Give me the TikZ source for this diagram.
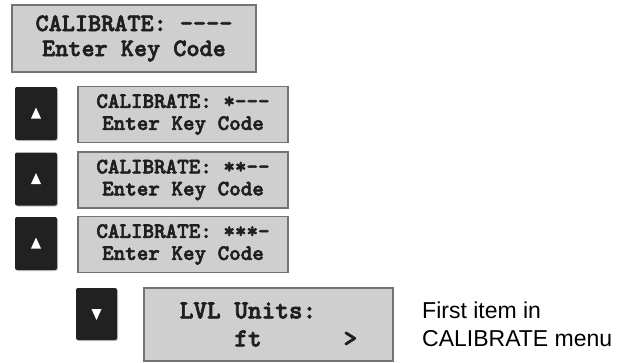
\documentclass[tikz,border=0pt]{standalone}
\usepackage{fontspec}
\newfontfamily\notefont{Liberation Sans}
\newfontfamily\lcdfont{lmmonolt10-bold}[Extension=.otf,FakeBold=2.5]
\usetikzlibrary{positioning,shadows}

\begin{document}
\begin{tikzpicture}[x=1pt,y=1pt,
  lcd/.style={draw=black!55,line width=1.2pt,fill=black!19,text=black!88,
    align=center,inner sep=0pt},
  keybtn/.style={fill=black!87,rounded corners=2pt,minimum width=42pt,minimum height=53pt,
    drop shadow={shadow xshift=1pt,shadow yshift=-1pt,fill=black!45}}]
\useasboundingbox (0,0) rectangle (637,-362);
\node[lcd,minimum width=244pt,minimum height=67pt,
  font=\fontsize{25}{25}\selectfont\lcdfont] (disp0) at (134,-38.5)
  {CALIBRATE: ----\\Enter Key Code};
\foreach \i/\y/\code in {1/113.5/*---,2/179/**--,3/243.5/***-} {
  \node[keybtn] (key\i) at (36,-\y) {};
  \fill[white] ([shift={(-5pt,-5pt)}]key\i.center) -- ([shift={(5pt,-5pt)}]key\i.center)
    -- ([shift={(0,6pt)}]key\i.center) -- cycle;
  \node[lcd,minimum width=210pt,minimum height=56pt,
    font=\fontsize{22}{22}\selectfont\lcdfont] (disp\i) at (183,-\y-1)
    {CALIBRATE: \code\\Enter Key Code};
}
\node[keybtn,minimum width=41pt,minimum height=52pt] (keydn) at (96.5,-314) {};
\fill[white] ([shift={(-5pt,5pt)}]keydn.center) -- ([shift={(5pt,5pt)}]keydn.center)
  -- ([shift={(0,-6pt)}]keydn.center) -- cycle;
\node[lcd,minimum width=249pt,minimum height=73pt,align=left,
  font=\fontsize{26}{28}\selectfont\lcdfont] (disp4) at (268.5,-324.5)
  {LVL Units:\\\phantom{xxxx}ft\phantom{xxxxxx}>};
\node[font=\fontsize{23}{28}\selectfont\notefont,align=left,anchor=west,inner sep=0pt]
  (note) at (422,-324) {First item in\\CALIBRATE menu};
\end{tikzpicture}
\end{document}
